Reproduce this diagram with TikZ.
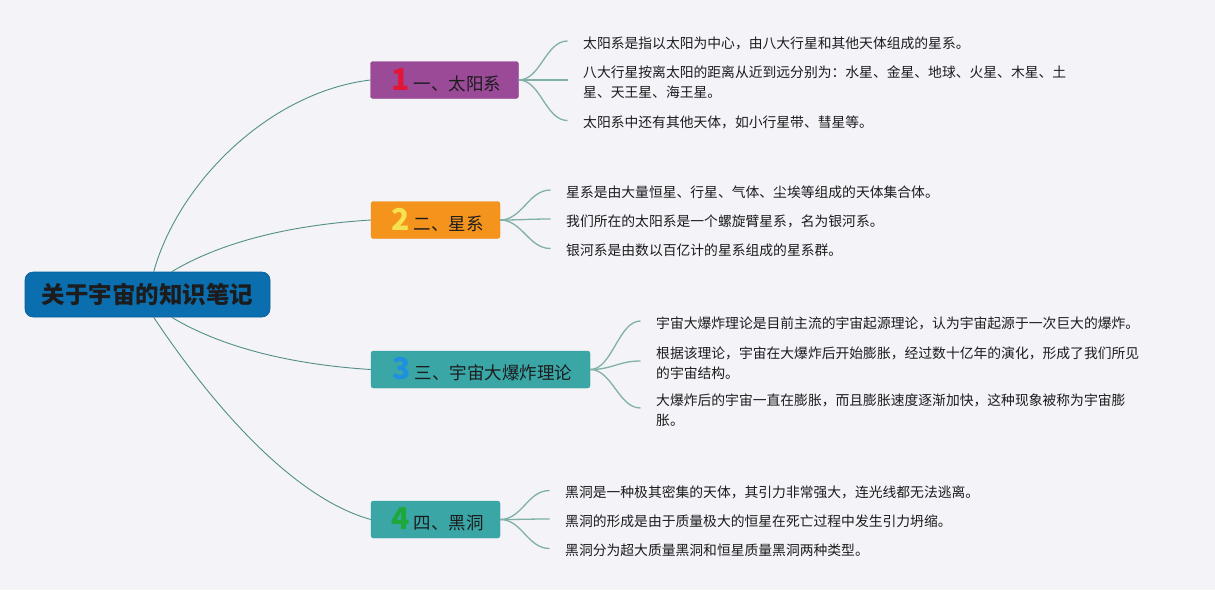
\documentclass[tikz,border=0pt]{standalone}
\usepackage{fontspec}
\newfontfamily\cjk{Noto Sans CJK SC}
\definecolor{bg}{RGB}{243,243,248}
\definecolor{txt}{RGB}{28,28,30}
\definecolor{rootblue}{RGB}{11,111,175}
\definecolor{bpurple}{RGB}{155,74,151}
\definecolor{borange}{RGB}{244,148,29}
\definecolor{bteal}{RGB}{58,166,165}
\definecolor{rootline}{RGB}{82,143,135}
\definecolor{leafline}{RGB}{128,176,167}
\definecolor{nred}{RGB}{226,23,56}
\definecolor{nyellow}{RGB}{246,226,80}
\definecolor{nblue}{RGB}{30,144,224}
\definecolor{ngreen}{RGB}{30,168,58}
\newcommand\mmnum[2]{{\color{#1}\bfseries\fontsize{30}{30}\selectfont #2}\hspace{4pt}}
\tikzset{
  rootbox/.style={fill=rootblue, draw=rootblue!85!black, line width=0.6pt, rounded corners=8pt,
    minimum width=245pt, minimum height=45pt, inner sep=0pt,
    font=\cjk\bfseries\fontsize{23.5}{26}\selectfont, text=txt},
  branchbox/.style={rounded corners=2.5pt, minimum height=37pt, inner sep=0pt,
    font=\cjk\fontsize{17.5}{20}\selectfont, text=txt},
  leaf/.style={anchor=west, inner sep=0pt, align=left,
    font=\cjk\fontsize{13.8}{20}\selectfont, text=txt},
  rootlink/.style={draw=rootline, line width=0.9pt},
  leaflink/.style={draw=leafline, line width=1.3pt},
}
\begin{document}
\begin{tikzpicture}[x=1pt,y=-1pt]
\fill[bg] (0,0) rectangle (1215,590);
\useasboundingbox (0,0) rectangle (1215,590);

% root
\node[rootbox] (root) at (147.5,294.5) {关于宇宙的知识笔记};

% branches
\node[branchbox, fill=bpurple, draw=bpurple!90!black, minimum width=148pt] (b1) at (444.5,80)
  {\hspace{4pt}\mmnum{nred}{1}一、太阳系};
\node[branchbox, fill=borange, draw=borange!95!black, minimum width=129pt] (b2) at (435.5,220)
  {\hspace{4pt}\mmnum{nyellow}{2}二、星系};
\node[branchbox, fill=bteal, draw=bteal!95!black, minimum width=219pt] (b3) at (480.5,369.5)
  {\hspace{4pt}\mmnum{nblue}{3}三、宇宙大爆炸理论};
\node[branchbox, fill=bteal, draw=bteal!95!black, minimum width=129pt] (b4) at (435.5,519.5)
  {\hspace{4pt}\mmnum{ngreen}{4}四、黑洞};

% leaves
\node[leaf] (t11) at (583,43) {太阳系是指以太阳为中心，由八大行星和其他天体组成的星系。};
\node[leaf] (t12) at (583,82) {八大行星按离太阳的距离从近到远分别为：水星、金星、地球、火星、木星、土\\星、天王星、海王星。};
\node[leaf] (t13) at (583,122.5) {太阳系中还有其他天体，如小行星带、彗星等。};

\node[leaf] (t21) at (566,192) {星系是由大量恒星、行星、气体、尘埃等组成的天体集合体。};
\node[leaf] (t22) at (566,221) {我们所在的太阳系是一个螺旋臂星系，名为银河系。};
\node[leaf] (t23) at (566,250.5) {银河系是由数以百亿计的星系组成的星系群。};

\node[leaf] (t31) at (656,323) {宇宙大爆炸理论是目前主流的宇宙起源理论，认为宇宙起源于一次巨大的爆炸。};
\node[leaf] (t32) at (656,363) {根据该理论，宇宙在大爆炸后开始膨胀，经过数十亿年的演化，形成了我们所见\\的宇宙结构。};
\node[leaf] (t33) at (656,410) {大爆炸后的宇宙一直在膨胀，而且膨胀速度逐渐加快，这种现象被称为宇宙膨\\胀。};

\node[leaf] (t41) at (565,492.5) {黑洞是一种极其密集的天体，其引力非常强大，连光线都无法逃离。};
\node[leaf] (t42) at (565,521) {黑洞的形成是由于质量极大的恒星在死亡过程中发生引力坍缩。};
\node[leaf] (t43) at (565,550.5) {黑洞分为超大质量黑洞和恒星质量黑洞两种类型。};

% connector end points
\foreach \t in {t11,t12,t13,t21,t22,t23,t31,t32,t33,t41,t42,t43}{
  \coordinate (e\t) at ([xshift=-15.5pt,yshift=2pt]\t.west);
}
\coordinate (r1) at ([xshift=129pt]root.north west);
\coordinate (r2) at ([xshift=147pt]root.north west);
\coordinate (r3) at ([xshift=147pt]root.south west);
\coordinate (r4) at ([xshift=129pt]root.south west);

% root links
\draw[rootlink] (r1) .. controls +(25,-90) and +(-100,12) .. (b1.west);
\draw[rootlink] (r2) .. controls +(50,-30) and +(-80,5) .. (b2.west);
\draw[rootlink] (r3) .. controls +(50,30) and +(-80,-5) .. (b3.west);
\draw[rootlink] (r4) .. controls +(40,60) and +(-90,-25) .. (b4.west);

% leaf links
\foreach \b/\t in {b1/t11,b1/t12,b1/t13,b2/t21,b2/t22,b2/t23,b3/t31,b3/t32,b3/t33,b4/t41,b4/t42,b4/t43}{
  \draw[leaflink] (\b.east) .. controls +(22,0) and +(-22,0) .. (e\t);
}
\end{tikzpicture}
\end{document}
